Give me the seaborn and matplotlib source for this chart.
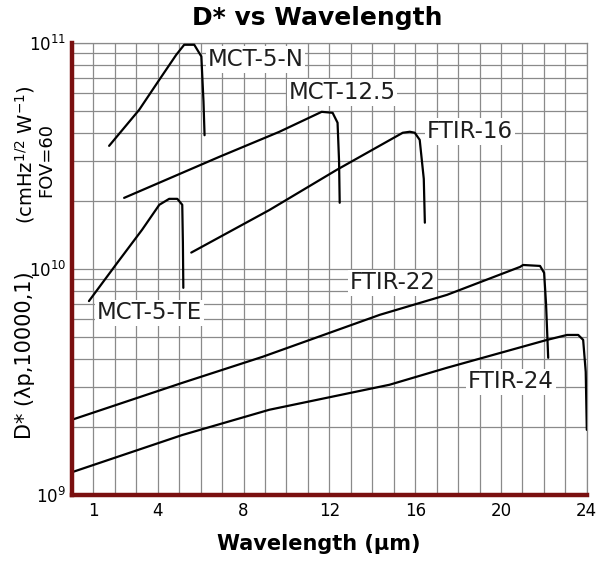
import numpy as np
import pandas as pd
import matplotlib
matplotlib.use("Agg")
import matplotlib.pyplot as plt
import matplotlib.ticker as mticker
import seaborn as sns

# data (wavelength in um, D* in cm Hz^1/2 W^-1)
mct5n_wl = [1.73, 3.13, 4.07, 4.86, 5.23, 5.70, 6.03, 6.13, 6.18]
mct5n_d = [3.5e10, 5.05e10, 6.86e10, 8.85e10, 9.8e10, 9.8e10, 8.7e10, 5.5e10, 3.9e10]

mct125_wl = [2.43, 6.87, 9.67, 11.64, 12.15, 12.38, 12.45, 12.48]
mct125_d = [2.06e10, 3.13e10, 4.04e10, 4.95e10, 4.9e10, 4.43e10, 3.0e10, 1.96e10]

ftir16_wl = [5.56, 9.2, 12.34, 15.42, 15.75, 15.98, 16.21, 16.4, 16.45]
ftir16_d = [1.18e10, 1.82e10, 2.74e10, 4.0e10, 4.04e10, 4.0e10, 3.72e10, 2.5e10, 1.6e10]

mct5te_wl = [0.79, 2.1, 3.27, 4.07, 4.53, 4.91, 5.14, 5.17, 5.19]
mct5te_d = [7.2e9, 1.06e10, 1.49e10, 1.92e10, 2.04e10, 2.04e10, 1.92e10, 1.3e10, 8.24e9]

ftir22_wl = [0.0, 5.14, 8.88, 14.35, 17.48, 20.89, 21.03, 21.82, 22.01, 22.1, 22.2]
ftir22_d = [2.15e9, 3.13e9, 4.08e9, 6.26e9, 7.67e9, 1.02e10, 1.04e10, 1.03e10, 9.6e9, 7.0e9, 4.04e9]

ftir24_wl = [0.0, 5.14, 9.2, 14.8, 17.48, 22.15, 23.08, 23.6, 23.83, 23.95, 24.0]
ftir24_d = [1.26e9, 1.84e9, 2.38e9, 3.07e9, 3.65e9, 4.85e9, 5.1e9, 5.1e9, 4.85e9, 3.5e9, 1.94e9]

detectors = ["MCT-5-N", "MCT-12.5", "FTIR-16", "MCT-5-TE", "FTIR-22", "FTIR-24"]
wl_lists = [mct5n_wl, mct125_wl, ftir16_wl, mct5te_wl, ftir22_wl, ftir24_wl]
d_lists = [mct5n_d, mct125_d, ftir16_d, mct5te_d, ftir22_d, ftir24_d]

xtick_vals = [1, 4, 8, 12, 16, 20, 24]

# label anchor (left edge, vertical centre) for each curve name
label_pos = {
    "MCT-5-N": (6.31, 8.41e10),
    "MCT-12.5": (10.09, 6.01e10),
    "FTIR-16": (16.54, 4.04e10),
    "MCT-5-TE": (1.17, 6.38e9),
    "FTIR-22": (12.94, 8.67e9),
    "FTIR-24": (18.46, 3.16e9),
}

df = pd.concat(
    [pd.DataFrame({"detector": name, "wl": wl, "dstar": d})
     for name, wl, d in zip(detectors, wl_lists, d_lists)],
    ignore_index=True,
)

# ---- style ----
sns.set_style("white")
plt.rcParams["font.family"] = ["DejaVu Sans"]
plt.rcParams["text.color"] = "black"

fig = plt.figure(figsize=(6.0, 5.63), dpi=100)
ax = fig.add_axes([0.12, 0.121, 0.858, 0.803])

sns.lineplot(data=df, x="wl", y="dstar", units="detector", estimator=None,
             sort=False, color="black", linewidth=1.6, ax=ax, zorder=3)

ax.set_yscale("log")
ax.set_xlim(0, 24)
ax.set_ylim(1e9, 1e11)

ax.set_xticks(xtick_vals)
ax.set_xticklabels([str(v) for v in xtick_vals])
ax.set_xticks(range(1, 25), minor=True)
ax.yaxis.set_minor_formatter(mticker.NullFormatter())
ax.tick_params(which="both", length=0, labelsize=12, colors="black")
ax.tick_params(axis="x", pad=5)
ax.tick_params(axis="y", pad=4)

ax.grid(True, which="both", color="#8a8a8a", linewidth=0.9)
ax.set_axisbelow(True)

for side in ["left", "bottom"]:
    ax.spines[side].set_color("#7a1010")
    ax.spines[side].set_linewidth(3.2)
    ax.spines[side].set_zorder(5)
for side in ["top", "right"]:
    ax.spines[side].set_color("#8a8a8a")
    ax.spines[side].set_linewidth(0.9)

for name in detectors:
    x, y = label_pos[name]
    ax.text(x, y, name, ha="left", va="center", fontsize=16.5, color="#1e1e1e",
            zorder=4, bbox=dict(boxstyle="square,pad=0.08", facecolor="white",
                                edgecolor="none"))

ax.set_xlabel("")
ax.set_ylabel("")

fig.text(0.528, 0.968, "D* vs Wavelength", fontsize=18, fontweight="bold",
         ha="center", va="center")
fig.text(0.532, 0.033, "Wavelength (\u00b5m)", fontsize=15, fontweight="bold",
         ha="center", va="center")
fig.text(0.042, 1 - 355 / 563, "D* (\u03bbp,10000,1)", fontsize=15,
         rotation=90, ha="center", va="center")
fig.text(0.042, 1 - 155 / 563, "(cmHz$^{1/2}$ W$^{-1}$)", fontsize=14,
         rotation=90, ha="center", va="center")
fig.text(0.077, 1 - 160 / 563, "FOV=60", fontsize=13,
         rotation=90, ha="center", va="center")

fig.savefig("out.png", dpi=100, facecolor="white")
